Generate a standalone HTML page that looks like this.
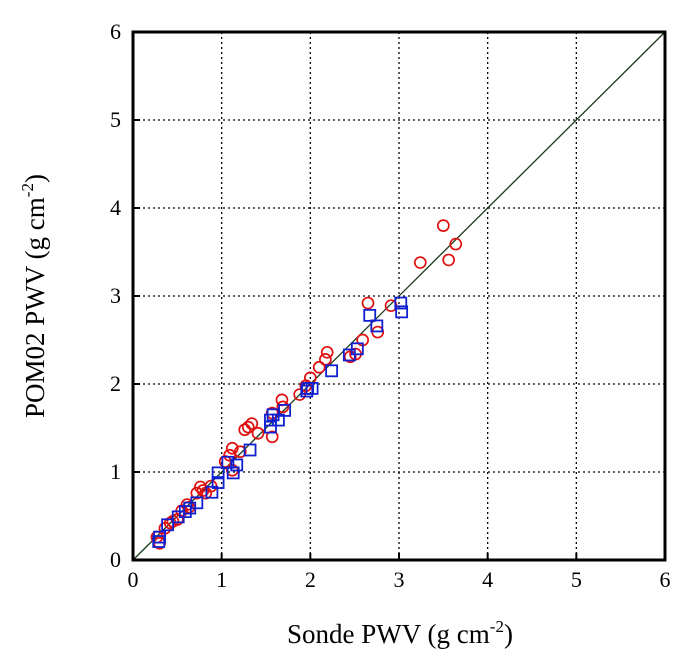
<!DOCTYPE html>
<html><head><meta charset="utf-8"><style>
body{margin:0;background:#fff;}
svg{display:block;font-family:"Liberation Serif",serif;}
</style></head><body>
<svg id="chart" width="689" height="671">
<g id="grid"></g>
<g id="marks"></g>
<g id="axes"></g>
<text x="44" y="296" font-size="27" text-anchor="middle" transform="rotate(-90 44 296)">POM02  PWV (g cm<tspan dy="-11" font-size="17">-2</tspan><tspan dy="11">)</tspan></text>
<text x="400" y="643" font-size="27" text-anchor="middle">Sonde PWV (g cm<tspan dy="-11" font-size="17">-2</tspan><tspan dy="11">)</tspan></text>
</svg>
<script>
const ticks=[0,1,2,3,4,5,6];
const tickLabels=["0","1","2","3","4","5","6"];
const redX=[3.24,3.5,3.64,3.56,2.65,2.91,2.76,2.59,2.19,2.17,2.1,2.0,2.51,2.45,1.68,1.69,1.57,1.30,1.34,1.26,1.41,1.57,1.12,1.21,1.09,1.04,1.12,0.76,0.79,0.72,0.61,0.63,0.5,0.42,0.36,0.27,0.3,0.45,0.55,0.82,0.88,1.88,1.95];
const redY=[3.38,3.8,3.59,3.41,2.92,2.89,2.59,2.5,2.36,2.28,2.19,2.07,2.34,2.31,1.82,1.74,1.67,1.51,1.55,1.48,1.44,1.40,1.27,1.23,1.19,1.12,1.02,0.83,0.79,0.76,0.63,0.6,0.46,0.42,0.36,0.26,0.19,0.44,0.56,0.76,0.84,1.88,1.98];
const blueX=[3.02,3.03,2.67,2.75,2.53,2.44,2.24,1.97,2.02,1.96,1.58,1.55,1.64,1.71,1.55,1.32,1.17,1.07,1.13,0.96,0.96,0.89,0.72,0.64,0.59,0.51,0.39,0.3,0.29];
const blueY=[2.92,2.82,2.78,2.66,2.40,2.33,2.15,1.95,1.95,1.92,1.65,1.59,1.59,1.70,1.51,1.25,1.08,1.11,0.99,0.99,0.88,0.77,0.65,0.59,0.55,0.49,0.40,0.26,0.21];
const X0=133,X1=665,Y0=560,Y1=32;
const sx=v=>X0+(X1-X0)*v/6, sy=v=>Y0-(Y0-Y1)*v/6;
const NS="http://www.w3.org/2000/svg";
function mk(t,a,p){const e=document.createElementNS(NS,t);for(const k in a)e.setAttribute(k,a[k]);p.appendChild(e);return e;}
const grid=document.getElementById('grid'),marks=document.getElementById('marks'),axes=document.getElementById('axes');
ticks.forEach((t,i)=>{
 if(t>0&&t<6){
  const g1=mk('line',{x1:sx(t),x2:sx(t),y1:Y1,y2:Y0,stroke:'#000','stroke-width':1.3,'stroke-dasharray':'2,3'},grid);
  
  
  const g2=mk('line',{x1:X0,x2:X1,y1:sy(t),y2:sy(t),stroke:'#000','stroke-width':1.3,'stroke-dasharray':'2,3'},grid);
  
  
 }
 const tx=mk('text',{x:sx(t),y:Y0+27,'font-size':22,'text-anchor':'middle'},axes);tx.textContent=tickLabels[i];
 
 
 const ty=mk('text',{x:X0-12,y:sy(t)+7,'font-size':22,'text-anchor':'end'},axes);ty.textContent=tickLabels[i];
 
 
 const k1=mk('line',{x1:sx(t),x2:sx(t),y1:Y0,y2:Y0-7,stroke:'#000','stroke-width':2},axes);
 
 
 const k2=mk('line',{x1:X0,x2:X0+7,y1:sy(t),y2:sy(t),stroke:'#000','stroke-width':2},axes);
 
 
});
const one=mk('line',{x1:sx(0),y1:sy(0),x2:sx(6),y2:sy(6),stroke:'#1a3a1a','stroke-width':1.3},marks);


redX.forEach((x,i)=>{
 const c=mk('circle',{cx:sx(x),cy:sy(redY[i]),r:5.5,fill:'none',stroke:'#e01010','stroke-width':1.7},marks);
 
 
});
blueX.forEach((x,i)=>{
 const r=mk('rect',{x:sx(x)-5.5,y:sy(blueY[i])-5.5,width:11,height:11,fill:'none',stroke:'#1020d0','stroke-width':1.8},marks);
 
 
});
const f=mk('rect',{x:X0,y:Y1,width:X1-X0,height:Y0-Y1,fill:'none',stroke:'#000','stroke-width':3},axes);


</script>
</body></html>
